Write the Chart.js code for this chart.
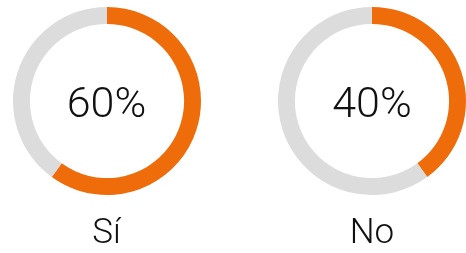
<!DOCTYPE html>
<html>
<head>
<meta charset="utf-8">
<script src="https://cdn.jsdelivr.net/npm/chart.js@4"></script>
<style>
  html, body { margin: 0; padding: 0; background: #fff; }
  body { width: 466px; height: 253px; position: relative; overflow: hidden; font-family: Roboto, "Noto Sans", sans-serif; }
  .wrap { position: absolute; width: 188px; height: 188px; }
  .pct { position: absolute; transform: translate(-50%, -50%); font-size: 43px; font-weight: 300; color: #111; line-height: 1; white-space: nowrap; }
  .lbl { position: absolute; transform: translate(-50%, -50%); font-size: 35px; font-weight: 300; color: #111; line-height: 1; white-space: nowrap; }
</style>
</head>
<body>
<script>
const categories = ['Sí', 'No'];
const shares = [60, 40];
const remainders = [40, 60];
const pctLabels = ['60%', '40%'];

const centersX = [106.5, 372];
const centerY = 100.5;
const size = 188;
const orange = '#EE6C0A';
const grey = '#DCDCDC';

categories.forEach((cat, i) => {
  const wrap = document.createElement('div');
  wrap.className = 'wrap';
  wrap.style.left = (centersX[i] - size / 2) + 'px';
  wrap.style.top = (centerY - size / 2) + 'px';
  const canvas = document.createElement('canvas');
  canvas.width = size; canvas.height = size;
  wrap.appendChild(canvas);
  document.body.appendChild(wrap);

  new Chart(canvas, {
    type: 'doughnut',
    data: {
      labels: [cat, ''],
      datasets: [{
        data: [shares[i], remainders[i]],
        backgroundColor: [orange, grey],
        borderWidth: 0,
        hoverOffset: 0
      }]
    },
    options: {
      responsive: false,
      animation: false,
      cutout: '82%',
      layout: { padding: 0 },
      plugins: { legend: { display: false }, tooltip: { enabled: false } }
    }
  });

  const pct = document.createElement('div');
  pct.className = 'pct';
  pct.textContent = pctLabels[i];
  pct.style.left = centersX[i] + 'px';
  pct.style.top = (centerY + 1) + 'px';
  document.body.appendChild(pct);

  const lbl = document.createElement('div');
  lbl.className = 'lbl';
  lbl.textContent = cat;
  lbl.style.left = centersX[i] + 'px';
  lbl.style.top = '231px';
  document.body.appendChild(lbl);
});
</script>
</body>
</html>
